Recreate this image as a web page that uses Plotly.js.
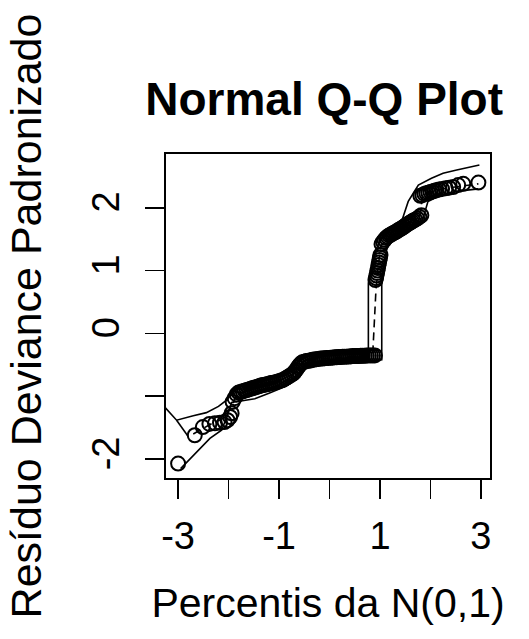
<!DOCTYPE html>
<html><head><meta charset="utf-8">
<script src="https://cdn.plot.ly/plotly-3.0.1.min.js"></script>
<style>html,body{margin:0;padding:0;background:#fff;}</style>
</head><body><div id="chart" style="width:529px;height:639px;"></div>
<script>
// Sample points (theoretical quantile, standardized deviance residual)
var lowX  = [-3.00, -2.67, -2.51, -2.38, -2.27, -2.17, -2.08, -2.02, -1.97, -1.94];
var lowY  = [-2.07, -1.62, -1.49, -1.44, -1.43, -1.42, -1.41, -1.38, -1.33, -1.27];
var bandX = [-1.92,-1.88,-1.84,-1.80,-1.76,-1.72,-1.68,-1.64,-1.60,-1.56,-1.52,-1.48,-1.44,-1.40,-1.36,-1.32,-1.28,-1.24,-1.20,-1.16,-1.12,-1.08,-1.04,-1.00,-0.96,-0.92,-0.88,-0.84,-0.80,-0.76,-0.72,-0.69,-0.66,-0.63,-0.60,-0.57,-0.54,-0.50,-0.46,-0.42,-0.38,-0.34,-0.30,-0.26,-0.22,-0.18,-0.14,-0.10,-0.06,-0.02,0.02,0.06,0.10,0.14,0.18,0.22,0.26,0.30,0.34,0.38,0.42,0.46,0.50,0.54,0.58,0.62,0.66,0.70,0.74,0.78,0.82,0.86,0.90];
var bandY = [-1.09,-1.03,-0.97,-0.94,-0.93,-0.92,-0.91,-0.90,-0.89,-0.88,-0.87,-0.86,-0.85,-0.84,-0.83,-0.82,-0.815,-0.81,-0.80,-0.79,-0.785,-0.78,-0.77,-0.76,-0.75,-0.74,-0.72,-0.70,-0.68,-0.66,-0.64,-0.61,-0.58,-0.54,-0.51,-0.48,-0.46,-0.45,-0.44,-0.435,-0.43,-0.42,-0.415,-0.41,-0.405,-0.40,-0.40,-0.395,-0.39,-0.39,-0.385,-0.385,-0.38,-0.38,-0.375,-0.375,-0.37,-0.37,-0.37,-0.365,-0.365,-0.36,-0.36,-0.36,-0.36,-0.355,-0.355,-0.355,-0.35,-0.35,-0.35,-0.35,-0.35];
var jumpX = [0.91, 0.92, 0.93, 0.94, 0.95, 0.96, 0.97, 0.98, 0.99, 1.00, 1.01];
var jumpY = [0.85, 0.88, 0.92, 0.96, 1.00, 1.04, 1.09, 1.13, 1.17, 1.21, 1.25];
var midX  = [1.03,1.06,1.09,1.12,1.15,1.18,1.21,1.24,1.27,1.30,1.33,1.36,1.39,1.42,1.45,1.48,1.51,1.54,1.57,1.60,1.63,1.66,1.70,1.74,1.78,1.82];
var midY  = [1.42,1.46,1.49,1.52,1.54,1.56,1.57,1.585,1.60,1.61,1.625,1.64,1.655,1.67,1.685,1.70,1.72,1.735,1.75,1.765,1.78,1.795,1.81,1.83,1.855,1.88];
var topX  = [1.80,1.84,1.88,1.92,1.96,2.00,2.04,2.08,2.12,2.17,2.23,2.30,2.37,2.45,2.55,2.65,2.95];
var topY  = [2.19,2.20,2.22,2.23,2.24,2.25,2.26,2.27,2.28,2.29,2.30,2.31,2.32,2.33,2.36,2.38,2.40];

// Simulated envelope: upper, lower and mean (dashed)
var upX = [-3.30,-3.03,-2.70,-2.44,-2.20,-2.04,-1.94,-1.80,-1.50,-1.20,-0.95,-0.80,-0.68,-0.58,-0.45,-0.20,0.20,0.50,0.77,0.77,0.85,0.93,1.02,1.20,1.42,1.56,1.66,1.76,2.02,2.25,2.52,2.97];
var upY = [-1.14,-1.38,-1.31,-1.26,-1.16,-1.06,-0.96,-0.86,-0.79,-0.72,-0.67,-0.60,-0.50,-0.42,-0.36,-0.34,-0.32,-0.31,-0.30,0.80,1.10,1.35,1.50,1.64,1.76,2.10,2.23,2.36,2.47,2.55,2.60,2.68];
var upStartX = [-3.03, -2.80];
var upStartY = [-1.38, -1.64];
var loX = [-2.95,-2.37,-2.14,-2.02,-1.94,-1.48,-1.20,-0.95,-0.78,-0.66,-0.55,-0.40,-0.10,0.30,0.70,1.035,1.035,1.06,1.10,1.15,1.40,1.70,1.85,1.95,2.20,2.50,2.95];
var loY = [-2.15,-1.67,-1.54,-1.30,-1.10,-1.04,-0.95,-0.87,-0.80,-0.70,-0.58,-0.52,-0.49,-0.46,-0.44,-0.42,0.77,0.95,1.20,1.40,1.57,1.72,1.82,2.10,2.20,2.26,2.30];
var meanX = [-2.70,-2.37,-2.10,-1.94,-1.84,-1.50,-1.00,-0.72,-0.52,0.00,0.50,0.85,0.86,0.92,0.96,1.02,1.40,1.80,1.84,2.30,2.95];
var meanY = [-1.60,-1.45,-1.35,-1.15,-0.97,-0.87,-0.76,-0.64,-0.45,-0.39,-0.36,-0.33,-0.27,0.69,1.05,1.40,1.66,1.88,2.20,2.31,2.38];

var xTicks = [-3,-2,-1,0,1,2,3];
var xTickText = ['-3','','-1','','1','','3'];
var yTicks = [-2,-1,0,1,2];
var yTickText = ['-2','','0','1','2'];

var ptsX = lowX.concat(bandX, jumpX, midX, topX);
var ptsY = lowY.concat(bandY, jumpY, midY, topY);

var FONT = 'Liberation Sans, Arial, sans-serif';
var lineStyle = {color:'black', width:1.6};

var traces = [
  {x:ptsX, y:ptsY, type:'scatter', mode:'markers',
   marker:{symbol:'circle-open', size:14, color:'black', line:{color:'black', width:2}}},
  {x:upX, y:upY, type:'scatter', mode:'lines', line:lineStyle},
  {x:upStartX, y:upStartY, type:'scatter', mode:'lines', line:lineStyle},
  {x:loX, y:loY, type:'scatter', mode:'lines', line:lineStyle},
  {x:meanX, y:meanY, type:'scatter', mode:'lines', line:{color:'black', width:1.6, dash:'8px,5px'}}
];

var layout = {
  width:529, height:639,
  margin:{l:166, r:39, t:154, b:161},
  paper_bgcolor:'white', plot_bgcolor:'white',
  showlegend:false,
  font:{family:FONT, color:'black'},
  title:{text:'Normal Q-Q Plot', font:{family:FONT, size:46, weight:'bold', color:'black'},
         xref:'paper', x:0.488, xanchor:'center', yref:'container', y:0.845, yanchor:'middle'},
  xaxis:{range:[-3.24,3.18], autorange:false, tickmode:'array', tickvals:xTicks, ticktext:xTickText,
         ticks:'outside', ticklen:19, tickwidth:1.7, tickcolor:'black',
         showline:true, mirror:true, linecolor:'black', linewidth:2,
         showgrid:false, zeroline:false, automargin:false,
         tickfont:{family:FONT, size:38, color:'black'}, ticklabelstandoff:4,
         title:{text:'Percentis da N(0,1)', font:{family:FONT, size:41, color:'black'}, standoff:33}},
  yaxis:{range:[-2.30,2.855], autorange:false, tickmode:'array', tickvals:yTicks, ticktext:yTickText,
         ticks:'outside', ticklen:19, tickwidth:1.7, tickcolor:'black', tickangle:-90,
         showline:true, mirror:true, linecolor:'black', linewidth:2,
         showgrid:false, zeroline:false, automargin:false,
         tickfont:{family:FONT, size:38, color:'black'}, ticklabelstandoff:11,
         title:{text:'Resíduo Deviance Padronizado', font:{family:FONT, size:43, color:'black'}, standoff:30}}
};

Plotly.newPlot('chart', traces, layout, {staticPlot:true, displayModeBar:false});
</script></body></html>
